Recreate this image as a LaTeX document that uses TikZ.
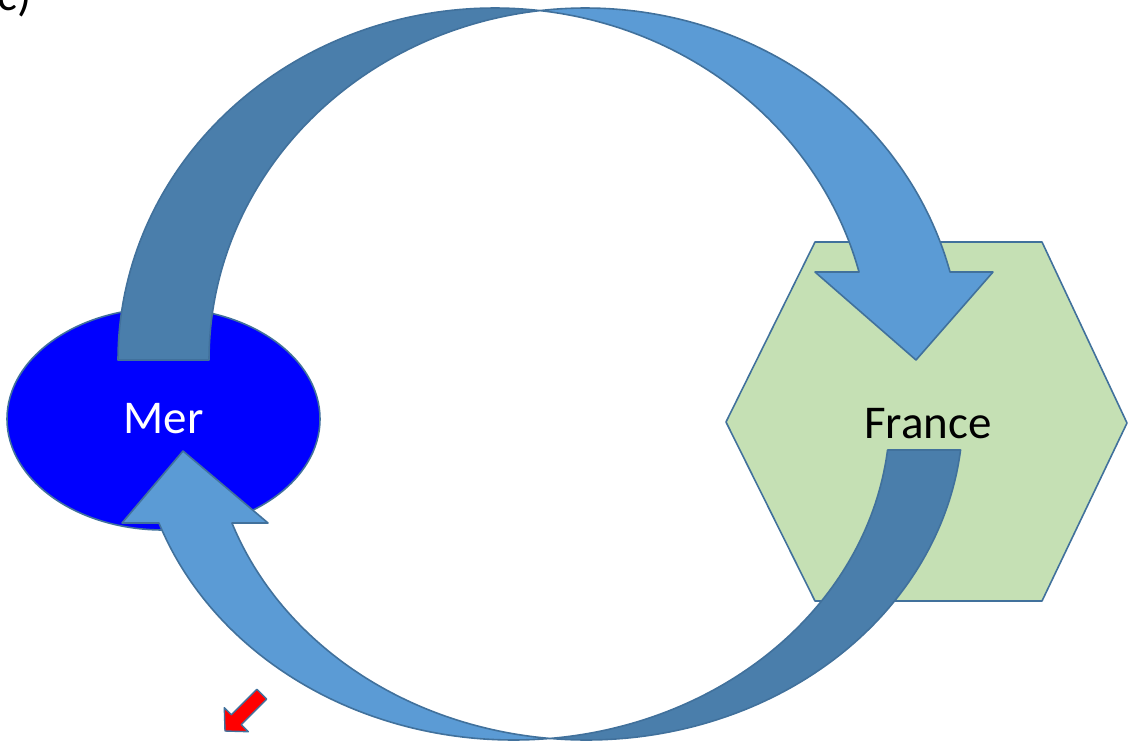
\documentclass[tikz,border=0pt]{standalone}
\usepackage{fontspec}
\setmainfont{Carlito}
\usetikzlibrary{shapes.geometric}
\definecolor{lb}{HTML}{5B9BD5}
\definecolor{db}{HTML}{4A7EAB}
\definecolor{bd}{HTML}{41719C}
\definecolor{hexg}{HTML}{C5E0B4}
\definecolor{merblue}{HTML}{0000FF}
\begin{document}
\begin{tikzpicture}[x=1pt,y=-1pt,
  shape line/.style={draw=bd,line width=1.6pt,line join=round},
  bigtext/.style={font=\fontsize{47}{56}\selectfont,inner sep=0pt}]
\useasboundingbox (0,0) rectangle (1128,742);
% label c)
\node[bigtext,anchor=base west] (lbl) at (-3,10) {c)};
% Mer ellipse
\node[shape line,fill=merblue,ellipse,minimum width=313pt,minimum height=222pt,
      bigtext,text=white] (mer) at (163.5,419) {Mer};
% France hexagon
\draw[shape line,fill=hexg] (726,422) -- (815,242) -- (1042,242) -- (1127,423)
      -- (1042,601) -- (815,601) -- cycle;
\node[bigtext] (france) at (928,423.5) {France};
% top curved arrow: back (dark) band
\draw[shape line,fill=db]
  plot[domain=180:83.06,samples=80,variable=\t] ({494.5+376.5*cos(\t)},{360-352*sin(\t)})
  -- plot[domain=96.94:180,samples=80,variable=\t] ({585.5+376.5*cos(\t)},{360-352*sin(\t)})
  -- cycle;
% top curved arrow: front (light) band with head
\draw[shape line,fill=lb]
  plot[domain=96.94:14.48,samples=80,variable=\t] ({585.5+376.5*cos(\t)},{360-352*sin(\t)})
  -- (993,272) -- (916,360) -- (815,272)
  -- plot[domain=14.48:83.06,samples=80,variable=\t] ({494.5+376.5*cos(\t)},{360-352*sin(\t)})
  -- cycle;
% bottom curved arrow: back (dark) band
\draw[shape line,fill=db]
  plot[domain=6.5:95.56,samples=80,variable=\t] ({586.5+376.5*cos(\t)},{413+327*sin(\t)})
  -- plot[domain=84.44:6.5,samples=80,variable=\t] ({513.5+376.5*cos(\t)},{413+327*sin(\t)})
  -- cycle;
% bottom curved arrow: front (light) band with head
\draw[shape line,fill=lb]
  plot[domain=84.44:160.34,samples=80,variable=\t] ({513.5+376.5*cos(\t)},{413+327*sin(\t)})
  -- (122,523) -- (183,451) -- (268,523)
  -- plot[domain=160.34:95.56,samples=80,variable=\t] ({586.5+376.5*cos(\t)},{413+327*sin(\t)})
  -- cycle;
% small red arrow
\draw[shape line,fill=red,line width=1.4pt]
  (225,731) -- (248.3,731.7) -- (241.2,724.6) -- (266.7,699.1) -- (256.9,689.3)
  -- (231.4,714.8) -- (224.3,707.7) -- cycle;
\end{tikzpicture}
\end{document}
